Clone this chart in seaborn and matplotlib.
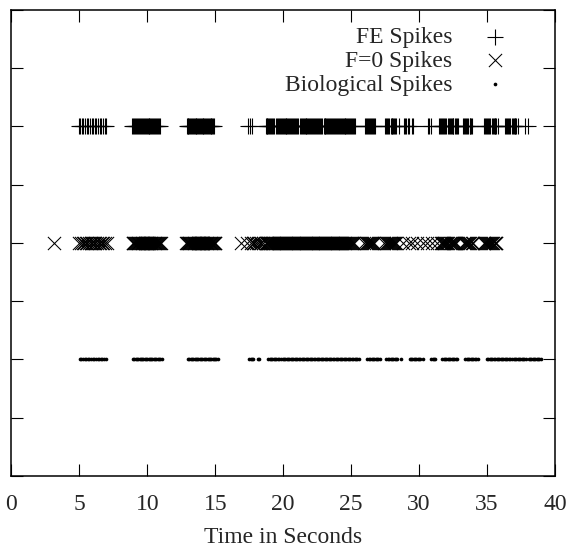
import matplotlib
matplotlib.use("Agg")
import matplotlib.pyplot as plt
import seaborn as sns

# Spike times (seconds) for each recording
fe_spikes = [
    4.95, 5.07, 5.19, 5.30, 5.42, 5.53, 5.66, 5.78, 5.90, 6.01, 6.13, 6.25, 6.38, 6.50, 6.62, 6.74, 6.86, 6.95,
    8.90, 8.97, 9.04, 9.11, 9.18, 9.25, 9.32, 9.39, 9.46, 9.53, 9.60, 9.67, 9.74, 9.81, 9.88, 9.95,
    10.02, 10.09, 10.16, 10.23, 10.30, 10.37, 10.44, 10.51, 10.58, 10.65, 10.72, 10.79, 10.86, 10.90,
    12.90, 12.96, 13.03, 13.09, 13.16, 13.22, 13.29, 13.35, 13.42, 13.48, 13.55, 13.61, 13.68, 13.74,
    13.81, 13.87, 13.94, 14.00, 14.07, 14.13, 14.20, 14.26, 14.33, 14.39, 14.46, 14.52, 14.59, 14.65,
    14.72, 14.78, 14.85, 14.90,
    17.42, 17.55, 17.68,
    18.70, 18.77, 18.84, 18.91, 18.98, 19.05, 19.12, 19.19, 19.26, 19.33, 19.47, 19.54, 19.61, 19.68,
    19.75, 19.82, 19.89, 19.96, 20.03, 20.10, 20.17, 20.24, 20.31, 20.38, 20.45, 20.52, 20.59, 20.66,
    20.73, 20.80, 20.87, 20.94, 21.01, 21.08, 21.22, 21.29, 21.36, 21.43, 21.50, 21.57, 21.64, 21.71,
    21.78, 21.85, 21.92, 21.99, 22.06, 22.13, 22.20, 22.27, 22.34, 22.41, 22.48, 22.55, 22.62, 22.69,
    22.76, 22.83, 22.97, 23.04, 23.11, 23.18, 23.25, 23.32, 23.39, 23.46, 23.53, 23.60, 23.67, 23.74,
    23.81, 23.88, 23.95, 24.02, 24.09, 24.16, 24.23, 24.30, 24.37, 24.44, 24.51, 24.58, 24.65, 24.72,
    24.79, 24.86, 24.93, 25.00, 25.07, 25.14, 25.21, 25.28,
    26.00, 26.07, 26.14, 26.21, 26.28, 26.42, 26.49, 26.56, 26.63, 26.70, 26.78,
    27.48, 27.55, 27.62, 27.69, 27.76, 27.90, 27.97, 28.04, 28.11, 28.18, 28.25, 28.30,
    28.55,
    28.86, 28.93, 29.00, 29.21, 29.28, 29.49, 29.56,
    30.62, 30.70, 30.88,
    31.48, 31.55, 31.62, 31.69, 31.76, 31.83, 31.90, 31.97, 32.11, 32.18, 32.25, 32.32, 32.39, 32.46,
    32.53, 32.67, 32.74, 32.81, 32.88,
    33.22, 33.29, 33.36, 33.43, 33.50, 33.57, 33.71, 33.78, 33.85, 33.92,
    34.78, 34.85, 34.92, 34.99, 35.06, 35.13, 35.20, 35.34, 35.41, 35.48, 35.55, 35.62, 35.69, 35.78,
    36.32, 36.39, 36.46, 36.53, 36.60, 36.67, 36.81, 36.88, 36.95, 37.02, 37.09, 37.16, 37.28,
    37.82, 37.98,
]

f0_spikes = [
    3.10,
    5.00, 5.12, 5.24, 5.35, 5.47, 5.58, 5.70, 5.82, 5.94, 6.05, 6.17, 6.29, 6.41, 6.53, 6.65, 6.77, 6.89, 7.00,
    8.92, 8.98, 9.04, 9.10, 9.16, 9.22, 9.28, 9.34, 9.40, 9.46, 9.52, 9.58, 9.64, 9.70, 9.76, 9.82,
    9.88, 9.94, 10.00, 10.06, 10.12, 10.18, 10.24, 10.30, 10.36, 10.42, 10.48, 10.54, 10.60, 10.66,
    10.72, 10.78, 10.84, 10.90, 10.98,
    12.86, 12.92, 12.98, 13.04, 13.10, 13.16, 13.22, 13.28, 13.34, 13.40, 13.46, 13.52, 13.58, 13.64,
    13.70, 13.76, 13.82, 13.88, 13.94, 14.00, 14.06, 14.12, 14.18, 14.24, 14.30, 14.36, 14.42, 14.48,
    14.54, 14.60, 14.66, 14.72, 14.78, 14.84, 14.90, 14.96, 15.00,
    16.90, 17.32, 17.62, 17.75, 17.88, 18.01, 18.14, 18.27, 18.40, 18.53,
    18.70, 18.77, 18.84, 18.91, 18.98, 19.05, 19.12, 19.19, 19.26, 19.33, 19.40, 19.47, 19.54, 19.61,
    19.68, 19.75, 19.82, 19.89, 19.96, 20.03, 20.10, 20.17, 20.24, 20.31, 20.38, 20.45, 20.52, 20.59,
    20.66, 20.73, 20.80, 20.87, 20.94, 21.01, 21.08, 21.15, 21.22, 21.29, 21.36, 21.43, 21.50, 21.57,
    21.64, 21.71, 21.78, 21.85, 21.92, 21.99, 22.06, 22.13, 22.20, 22.27, 22.34, 22.41, 22.48, 22.55,
    22.62, 22.69, 22.76, 22.83, 22.90, 22.97, 23.04, 23.11, 23.18, 23.25, 23.32, 23.39, 23.46, 23.53,
    23.60, 23.67, 23.74, 23.81, 23.88, 23.95, 24.02, 24.09, 24.16, 24.23, 24.30, 24.37, 24.44, 24.51,
    24.58, 24.65, 24.72, 24.79, 24.86, 24.93, 25.00, 25.07, 25.14, 25.20,
    25.98, 26.06, 26.14, 26.22, 26.30, 26.38, 26.46, 26.54, 26.62, 26.70,
    27.45, 27.53, 27.61, 27.69, 27.77, 27.85, 27.93, 28.01, 28.09, 28.17, 28.25, 28.33,
    28.85, 29.25, 29.45, 29.85, 30.25, 30.55, 30.95, 31.30,
    31.60, 31.68, 31.76, 31.84, 31.92, 32.00, 32.08, 32.16, 32.24, 32.32, 32.40, 32.48, 32.56, 32.64,
    32.72,
    33.30, 33.38, 33.46, 33.54, 33.62, 33.70, 33.78, 33.86, 33.94,
    34.75, 34.83, 34.91, 34.99, 35.07, 35.15, 35.23, 35.31, 35.39, 35.47, 35.55, 35.63, 35.68,
]

bio_spikes = [
    5.02, 5.14, 5.26, 5.38, 5.50, 5.62, 5.74, 5.86, 5.98, 6.10, 6.22, 6.34, 6.46, 6.58, 6.70, 6.82, 6.96,
    8.95, 9.05, 9.14, 9.24, 9.33, 9.43, 9.52, 9.62, 9.71, 9.81, 9.90, 10.00, 10.09, 10.19, 10.28, 10.38,
    10.47, 10.57, 10.66, 10.76, 10.85, 10.95, 11.05,
    13.00, 13.10, 13.19, 13.29, 13.38, 13.48, 13.57, 13.67, 13.76, 13.86, 13.95, 14.05, 14.14, 14.24,
    14.33, 14.43, 14.52, 14.62, 14.71, 14.81, 14.90, 15.00, 15.09, 15.18,
    17.50, 17.60, 17.70, 17.80, 18.15, 18.25,
    18.90, 19.00, 19.10, 19.20, 19.30, 19.40, 19.50, 19.60, 19.70, 19.85, 19.95, 20.05, 20.15, 20.25,
    20.35, 20.45, 20.55, 20.65, 20.75, 20.85, 20.95, 21.05, 21.15, 21.25, 21.35, 21.45, 21.55, 21.65,
    21.75, 21.85, 21.95, 22.05, 22.15, 22.25, 22.35, 22.45, 22.55, 22.65, 22.75, 22.85, 22.95, 23.05,
    23.15, 23.25, 23.35, 23.45, 23.55, 23.65, 23.75, 23.85, 23.95, 24.05, 24.15, 24.25, 24.35, 24.45,
    24.55, 24.65, 24.75, 24.85, 24.95, 25.05, 25.15, 25.25, 25.35, 25.45, 25.55,
    26.20, 26.30, 26.40, 26.50, 26.60, 26.70, 26.80, 26.90, 27.00, 27.10,
    27.60, 27.70, 27.80, 27.90, 28.00, 28.10, 28.20, 28.30, 28.40,
    28.65,
    29.30, 29.40, 29.50, 29.60, 29.70, 29.80, 29.90, 30.00, 30.10,
    30.25,
    30.90, 31.00, 31.10, 31.20,
    31.70, 31.80, 31.90, 32.00, 32.10, 32.20, 32.30, 32.40, 32.50, 32.60, 32.70, 32.80,
    33.40, 33.50, 33.60, 33.70, 33.80, 33.90, 34.00, 34.10, 34.20, 34.30,
    35.00, 35.10, 35.20, 35.30, 35.40, 35.50, 35.60, 35.70, 35.80, 35.90, 36.00, 36.10, 36.20, 36.30,
    36.40, 36.50, 36.60, 36.70,
    36.85, 36.95, 37.05, 37.15, 37.25, 37.35, 37.45, 37.55, 37.65, 37.75, 37.90,
    38.05, 38.15, 38.25, 38.35, 38.45, 38.55, 38.65, 38.75, 38.85, 39.00,
]

# Row on which each spike train is drawn
fe_row = 6
f0_row = 4
bio_row = 2

series_labels = ["FE Spikes", "F=0 Spikes", "Biological Spikes"]
x_ticks = [0, 5, 10, 15, 20, 25, 30, 35, 40]
x_label = "Time in Seconds"

sns.set_style("ticks")
plt.rcParams["font.family"] = ["Liberation Serif", "DejaVu Serif"]

fig = plt.figure(figsize=(5.71, 5.54), dpi=100)
ax = fig.add_axes([0.020, 0.141, 0.952, 0.841])

sns.scatterplot(x=fe_spikes, y=[fe_row] * len(fe_spikes), marker="+", s=120,
                color="black", linewidth=0.8, ax=ax, label=series_labels[0])
sns.scatterplot(x=f0_spikes, y=[f0_row] * len(f0_spikes), marker="x", s=90,
                color="black", linewidth=0.75, ax=ax, label=series_labels[1])
sns.scatterplot(x=bio_spikes, y=[bio_row] * len(bio_spikes), marker="o", s=7,
                color="black", linewidth=0, ax=ax, label=series_labels[2])

ax.set_xlim(0, 40)
ax.set_ylim(0, 8)
ax.set_xticks(x_ticks)
ax.set_xticklabels([str(t) for t in x_ticks])
ax.set_yticks(range(0, 9))
ax.set_yticklabels([])
ax.set_xlabel(x_label, fontsize=17, labelpad=9)
ax.set_ylabel("")

for side in ["top", "right", "bottom", "left"]:
    ax.spines[side].set_visible(True)
    ax.spines[side].set_linewidth(1.1)
    ax.spines[side].set_color("black")

ax.tick_params(axis="both", which="major", direction="in", length=8.5, width=0.8,
               color="black", top=True, right=True, labelsize=17, pad=13)

leg = ax.legend(loc="upper right", bbox_to_anchor=(0.9375, 0.965), frameon=False,
                markerfirst=False, fontsize=17, handlelength=2.2, handletextpad=0.72,
                labelspacing=0.1, borderaxespad=0, borderpad=0, scatterpoints=1)
for col in leg._legend_handle_box.get_children():
    col.align = "right"

fig.savefig("out.png", dpi=100)
